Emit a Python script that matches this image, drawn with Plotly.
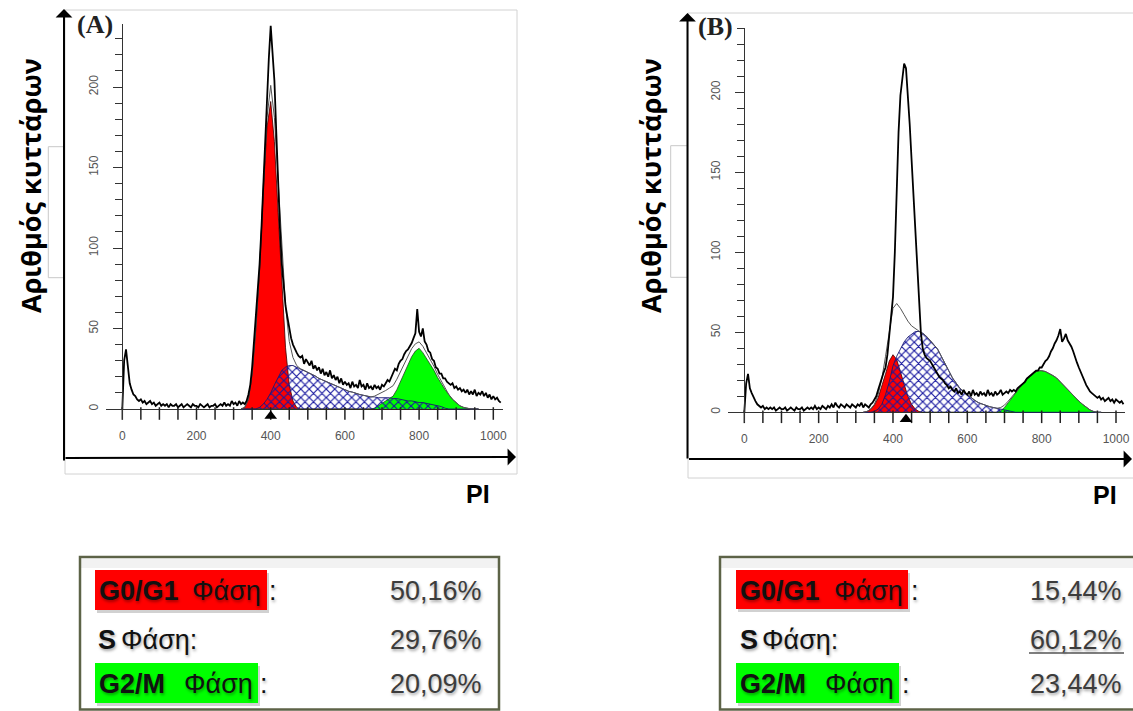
import plotly.graph_objects as go

W, H = 1133, 711
def px(x): return x / W
def py(y): return 1 - y / H

# ---------------- data ----------------
channels = list(range(0, 1021, 5))
counts_a = [
    0,30,37,26,16,12,9,8,6,5, 6,4,5,3,4,5,3,4,2,3,
    4,2,3,2,3,1,3,2,2,3, 1,2,3,1,2,3,2,1,3,2,
    2,1,3,2,1,2,3,1,2,2, 3,1,2,3,2,4,2,3,2,5,
    3,4,2,5,3,4,3,5,9,15, 26,42,58,70,90,112,140,165,195,218,
    238,222,204,172,140,112,90,74,64,57, 50,44,40,37,35,33,32,33,28,31,
    29,27,30,25,27,24,26,22,25,21, 23,20,24,19,21,18,20,16,19,15,
    17,15,16,13,17,14,15,13,18,14, 15,12,16,13,14,12,15,13,14,12,
    15,14,16,18,17,20,22,25,24,28, 30,31,34,36,37,39,41,44,47,62,
    48,45,50,42,40,36,35,31,30,26, 25,22,22,19,19,17,16,15,16,13,
    14,12,13,11,12,10,12,9,11,9, 12,8,10,9,11,8,10,7,9,6,
    8,6,7,5,4]
counts_b = [
    0,18,24,15,12,9,7,5,4,3, 4,2,3,2,3,2,3,1,2,3,
    2,2,3,1,2,3,2,1,3,2, 2,3,1,2,3,2,3,2,4,2,
    3,2,4,3,2,4,3,5,3,6, 4,3,5,4,3,5,4,3,5,4,
    3,5,4,6,3,5,4,3,5,6, 8,10,14,18,22,25,28,36,48,60,
    72,100,145,175,198,210,218,215,200,180, 158,135,112,90,66,50,40,36,34,33,
    32,30,28,26,24,22,21,20,18,17, 15,16,14,13,15,12,13,11,14,12,
    11,13,10,14,11,12,10,13,11,12, 10,14,11,12,10,13,11,12,14,11,
    12,13,12,14,13,14,13,15,16,17, 18,19,21,22,23,24,25,26,26,28,
    28,30,32,33,35,38,40,43,45,48, 52,44,46,49,45,43,41,38,34,31,
    28,25,22,19,17,15,13,12,11,10, 9,10,8,9,7,8,9,7,8,6,
    8,7,6,7,5]

comp_x = list(range(320, 961, 10))
g1_a = [0,1,6,22,50,86,135,175,191,166,122,77,38,15,5,1,0] + [0]*48
s_a = [0,0,0,0,0,1,3,6,10,15,20,24,26,27,27,26,25,24,23,22,20.5,19,18,17,16,
       14.5,13.5,12.5,12,11,10.5,9.5,9,8.5,8,7.5,7.5,7,7,7,7,6.5,6.5,6,5.5,5,5,
       4.5,4,4,3.5,3,2.5,2,1.5,0.5,0,0,0,0,0,0,0,0,0]
g2_a = [0]*36 + [0.5,2,3,4.5,6,8,12,17,23,28,32.5,36,37.7,35,31.5,28,24,19.5,15.5,
                 12,9,6,4,2,1,0.3,0,0,0]
g1_b = [0,0.5,2,4.5,9,16,24,32,36,33,25,17,10,5,2,0.5,0] + [0]*48
s_b = [0,0,0,0.5,2,5,11,19,29,35,40,44,47,49,50.5,50.5,49.5,47.5,45,42.5,39.5,35,30,
       26,21.5,18,15,13,11,9,7.5,6,5,4,3.5,3,2.5,2,1.5,1,0.5,0] + [0]*23
g2_b = [0]*37 + [1,3,6,9,12.5,15.5,18.5,21,23,25,26,26,25.5,24.5,23,21.5,19,16.5,14,
                 11.5,9,7,5,3,1.5,0.5,0,0]

peak_marker_a = [400]
peak_marker_b = [435]
x_tick_values = list(range(0, 1001, 50))

phase_labels = ["G0/G1", "S", "G2/M"]
pct_a = ["50,16%", "29,76%", "20,09%"]
pct_b = ["15,44%", "60,12%", "23,44%"]

fit_a = [a + b + c for a, b, c in zip(g1_a, s_a, g2_a)]
fit_b = [a + b + c for a, b, c in zip(g1_b, s_b, g2_b)]

RED, GREEN = "#ff0000", "#00ff00"
hatch = dict(shape="x", fgcolor="#1818a0", bgcolor="rgba(0,0,0,0)", size=6,
             solidity=0.35, fillmode="replace")

BELOW = 6  # counts shown below the channel axis (room for ticks and the marker)

fig = go.Figure()

def add_panel(xa, ya, g1, s, g2, fit, counts, mk, kpx):
    fig.add_trace(go.Scatter(x=comp_x, y=g1, xaxis=xa, yaxis=ya, mode="lines",
                             line=dict(color="#3a0000", width=0.8), fill="tozeroy",
                             fillcolor=RED, showlegend=False, hoverinfo="skip"))
    fig.add_trace(go.Scatter(x=comp_x, y=g2, xaxis=xa, yaxis=ya, mode="lines",
                             line=dict(color="#224422", width=0.8), fill="tozeroy",
                             fillcolor=GREEN, showlegend=False, hoverinfo="skip"))
    fig.add_trace(go.Scatter(x=comp_x, y=s, xaxis=xa, yaxis=ya, mode="lines",
                             line=dict(color="#1a1a70", width=0.9), fill="tozeroy",
                             fillcolor="rgba(0,0,0,0)", fillpattern=hatch,
                             showlegend=False, hoverinfo="skip"))
    fig.add_trace(go.Scatter(x=comp_x, y=fit, xaxis=xa, yaxis=ya, mode="lines",
                             line=dict(color="#555555", width=1), showlegend=False,
                             hoverinfo="skip"))
    fig.add_trace(go.Scatter(x=channels, y=counts, xaxis=xa, yaxis=ya, mode="lines",
                             line=dict(color="black", width=1.8), showlegend=False))
    # channel-axis tick marks, every 50 channels, hanging below the zero line
    fig.add_trace(go.Scatter(x=x_tick_values, y=[-4.5 / kpx] * len(x_tick_values),
                             xaxis=xa, yaxis=ya, mode="markers", cliponaxis=False,
                             marker=dict(symbol="line-ns", size=9, color="#222",
                                         line=dict(color="#222", width=1.5)),
                             showlegend=False, hoverinfo="skip"))
    fig.add_trace(go.Scatter(x=mk, y=[-7.0 / kpx] * len(mk), xaxis=xa, yaxis=ya,
                             mode="markers",
                             marker=dict(symbol="triangle-up", size=11, color="black"),
                             cliponaxis=False, showlegend=False))

add_panel("x", "y", g1_a, s_a, g2_a, fit_a, counts_a, peak_marker_a, 1.61)
add_panel("x2", "y2", g1_b, s_b, g2_b, fit_b, counts_b, peak_marker_b, 1.6)

tickfont = dict(family="Liberation Sans, Arial", size=12, color="#555555")

def xaxis_cfg(x0px, k, anchor):
    lo, hi = -45, 1025
    return dict(domain=[px(x0px + k * lo), px(x0px + k * hi)], range=[lo, hi],
                anchor=anchor, showline=False, ticks="",
                tickmode="linear", tick0=0, dtick=200,
                tickfont=tickfont, showgrid=False, zeroline=False, ticklabelstandoff=8)

def yaxis_cfg(y0px, k, top, xpos):
    return dict(domain=[py(y0px + k * BELOW), py(y0px - k * top)], range=[-BELOW, top],
                anchor="free", position=px(xpos), showline=True, linecolor="#333",
                linewidth=1, zeroline=True, zerolinecolor="#333", zerolinewidth=1,
                ticks="outside", ticklen=9, tickcolor="#333", tickwidth=1,
                tickmode="linear", tick0=0, dtick=50,
                minor=dict(tickmode="linear", tick0=0, dtick=10, ticks="outside",
                           ticklen=7, tickcolor="#333", tickwidth=1),
                tickangle=-90, tickfont=tickfont, showgrid=False, ticklabelstandoff=11)

fig.update_layout(
    template="none",
    xaxis=xaxis_cfg(122.3, 0.371, "y"),
    yaxis=yaxis_cfg(409, 1.61, 239, 122.3),
    xaxis2=xaxis_cfg(744.3, 0.3717, "y2"),
    yaxis2=yaxis_cfg(412.3, 1.6, 240, 744.3),
)

shapes = []
def rect(x0, y0, x1, y1, line=None, fill=None, lw=1):
    shapes.append(dict(type="rect", xref="paper", yref="paper", x0=px(x0), x1=px(x1),
                       y0=py(y0), y1=py(y1), line=dict(color=line or "rgba(0,0,0,0)", width=lw if line else 0),
                       fillcolor=fill or "rgba(0,0,0,0)", layer="below"))
def path(d_pts, color, lw=1):
    d = "M " + " L ".join(f"{px(x)} {py(y)}" for x, y in d_pts)
    shapes.append(dict(type="path", xref="paper", yref="paper", path=d,
                       line=dict(color=color, width=lw), layer="below"))

# light frames of the pasted images
rect(65, 10, 517, 474, line="#d2d2d2")
rect(688, 13, 1145, 478, line="#d2d2d2")
path([(63, 146.7), (48.3, 146.7), (48.3, 277.7), (63, 277.7)], "#c8c8c8")
path([(687, 145.7), (670.7, 145.7), (670.7, 277.3), (687, 277.3)], "#c8c8c8")

# tables
for (bx0, bx1) in [(80, 499), (720, 1150)]:
    rect(bx0 + 1, 559, bx1 - 1, 568, fill="rgba(0,0,0,0.05)")
    rect(bx0, 557, bx1, 709.5, line="#5d6347", lw=2.5)
for (x0, x1, y0, y1, c) in [(95, 267, 570, 610, RED), (95, 258, 663, 703, GREEN),
                            (736, 908, 570, 609, RED), (736, 899, 663, 703, GREEN)]:
    rect(x0 + 2, y0 + 3, x1 + 2, y1 + 3, fill="rgba(0,0,0,0.18)")
    rect(x0, y0, x1, y1, fill=c)
# underline of the S-phase value in table B
path([(1029, 653), (1124, 653)], "#555555", 1.5)

ann = []
def text(x, y, s, size, color="#111", xanchor="left", family="Liberation Sans, Arial",
         angle=0, shadow=None, bold=False):
    font = dict(family=family, size=size, color=color)
    if bold:
        font["weight"] = "bold"
    if shadow:
        font["shadow"] = shadow
    ann.append(dict(x=px(x), y=py(y), xref="paper", yref="paper", text=s, showarrow=False,
                    xanchor=xanchor, yanchor="middle", font=font, textangle=angle))

def arrow(x0, y0, x1, y1):
    ann.append(dict(x=px(x1), y=py(y1), ax=x0 - x1, ay=y0 - y1, xref="paper", yref="paper",
                    axref="pixel", ayref="pixel", text="", showarrow=True, arrowhead=1,
                    arrowsize=1.4, arrowwidth=2, arrowcolor="black", standoff=0))

arrow(64, 462, 64, 9)
arrow(64, 458, 516, 457)
arrow(687.5, 460, 687.5, 13)
arrow(687.5, 459, 1132, 459)

text(75, 24, "(A)", 26, family="Liberation Serif, serif", color="#222", bold=True)
text(696, 26, "(B)", 26, family="Liberation Serif, serif", color="#222", bold=True)
text(30, 186, "Αριθμός κυττάρων", 27, xanchor="center", angle=-90, bold=True,
     family="Open Sans, Liberation Sans", color="#000")
text(650, 186, "Αριθμός κυττάρων", 27, xanchor="center", angle=-90, bold=True,
     family="Open Sans, Liberation Sans", color="#000")
text(478, 494, "PI", 25, xanchor="center", bold=True, color="#000")
text(1105, 495, "PI", 25, xanchor="center", bold=True, color="#000")

sh = "1px 2px 3px rgba(0,0,0,0.35)"
rows_y = [591, 640, 684]
layouts = [
    (0, [[(97, "b"), (190, "Φάση"), (267, ":")], [(96, "b"), (119, "Φάση:")],
         [(97, "b"), (182, "Φάση"), (258, ":")]], 484, pct_a),
    (1, [[(738, "b"), (832, "Φάση"), (909, ":")], [(738, "b"), (760, "Φάση:")],
         [(738, "b"), (823, "Φάση"), (900, ":")]], 1124, pct_b),
]
for idx, rows, xr, pcts in layouts:
    for r, (pieces, y) in enumerate(zip(rows, rows_y)):
        for x, s in pieces:
            if s == "b":
                text(x, y, phase_labels[r], 27, color="#111", shadow=sh, bold=True)
            else:
                text(x, y, s, 27, color="#111", shadow=sh)
        text(xr, y, pcts[r], 27, color="#3c3c3c", xanchor="right", shadow=sh)

fig.update_layout(width=W, height=H, margin=dict(l=0, r=0, t=0, b=0),
                  paper_bgcolor="white", plot_bgcolor="white",
                  shapes=shapes, annotations=ann, showlegend=False)
fig.write_html("out.html")
